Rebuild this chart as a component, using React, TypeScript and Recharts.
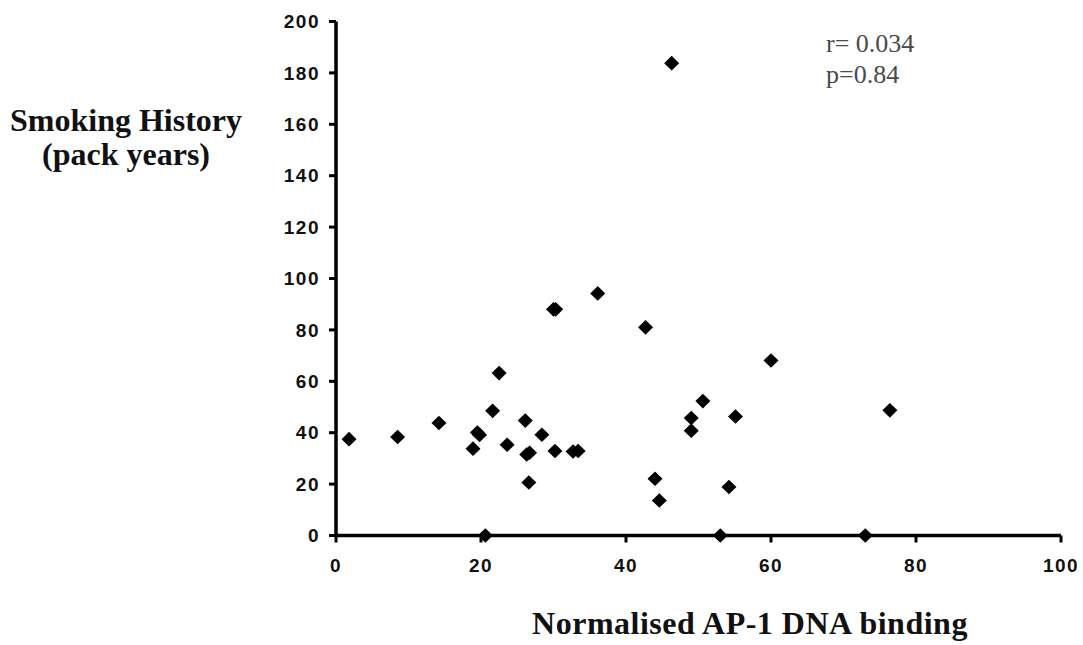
import React from 'react';
import { ScatterChart, Scatter, XAxis, YAxis } from 'recharts';

const apBinding = [1.8, 8.5, 14.2, 18.9, 19.5, 19.8, 20.6, 21.6, 22.5, 23.6, 26.1, 26.3, 26.7, 26.6, 28.4, 30.0, 30.3, 30.2, 32.7, 33.4, 36.1, 42.7, 44.0, 44.6, 46.3, 49.0, 49.0, 50.6, 55.1, 54.2, 53.0, 60.0, 73.0, 76.4];
const packYears = [37.5, 38.3, 43.8, 33.8, 40.1, 39.1, 0, 48.5, 63.2, 35.3, 44.7, 31.5, 32.2, 20.6, 39.2, 88.0, 88.0, 32.9, 32.7, 32.9, 94.2, 81.0, 22.1, 13.6, 183.8, 45.7, 40.8, 52.3, 46.3, 18.9, 0, 68.1, 0, 48.7];
const xTicks = [0, 20, 40, 60, 80, 100];
const yTicks = [0, 20, 40, 60, 80, 100, 120, 140, 160, 180, 200];
const yTitleLines = ['Smoking History', '(pack years)'];
const xTitle = 'Normalised AP-1 DNA binding';
const statLines = ['r= 0.034', 'p=0.84'];

const data = apBinding.map((x, i) => ({ x, y: packYears[i] }));

const Diamond = (props: any) => {
  const { cx, cy } = props;
  if (cx == null || cy == null) return null;
  const w = 7.5;
  const h = 7.3;
  return (
    <polygon
      points={`${cx - w},${cy} ${cx},${cy - h} ${cx + w},${cy} ${cx},${cy + h}`}
      fill="#000"
    />
  );
};

const tickStyle = {
  fontFamily: '"Liberation Sans", Arial, sans-serif',
  fontWeight: 700,
  fontSize: 19,
  letterSpacing: 1.5,
  fill: '#111',
};

const serif = '"Liberation Serif", "Times New Roman", serif';

export default function App() {
  return (
    <div style={{ position: 'absolute', left: 0, top: 0, width: 1083, height: 645, background: '#fff' }}>
      <ScatterChart
        width={1083}
        height={645}
        margin={{ top: 21.5, right: 22, bottom: 0, left: 0 }}
      >
        <XAxis
          type="number"
          dataKey="x"
          domain={[0, 100]}
          ticks={xTicks}
          interval={0}
          height={109.5}
          tickSize={7}
          tickMargin={16}
          axisLine={{ stroke: '#000', strokeWidth: 3.5 }}
          tickLine={{ stroke: '#000', strokeWidth: 3 }}
          tick={tickStyle}
        />
        <YAxis
          type="number"
          dataKey="y"
          domain={[0, 200]}
          ticks={yTicks}
          interval={0}
          width={336}
          tickSize={7}
          tickMargin={9}
          axisLine={{ stroke: '#000', strokeWidth: 3.5 }}
          tickLine={{ stroke: '#000', strokeWidth: 3 }}
          tick={tickStyle}
        />
        <Scatter data={data} shape={<Diamond />} isAnimationActive={false} />
        <text x={126} y={131} textAnchor="middle" fontFamily={serif} fontWeight={700} fontSize={32} fill="#111">
          {yTitleLines[0]}
        </text>
        <text x={126} y={165} textAnchor="middle" fontFamily={serif} fontWeight={700} fontSize={32} fill="#111">
          {yTitleLines[1]}
        </text>
        <text x={750} y={634} textAnchor="middle" fontFamily={serif} fontWeight={700} fontSize={32} letterSpacing={0.5} fill="#111">
          {xTitle}
        </text>
        <text x={826} y={52} fontFamily={serif} fontSize={26} fill="#4a4a4a">
          {statLines[0]}
        </text>
        <text x={826} y={83} fontFamily={serif} fontSize={26} fill="#4a4a4a">
          {statLines[1]}
        </text>
      </ScatterChart>
    </div>
  );
}
